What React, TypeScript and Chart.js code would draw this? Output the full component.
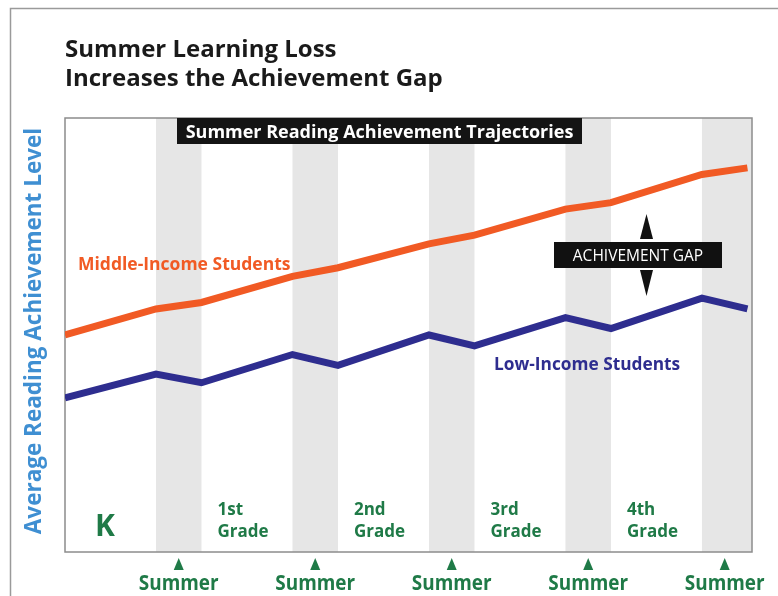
import React, { useEffect, useRef } from "react";
import { Chart, registerables } from "chart.js";

Chart.register(...registerables);

// Time axis: each grade year = 2 units of school, 1 unit of summer
const xPoints = [0, 2, 3, 5, 6, 8, 9, 11, 12, 14, 15];
const middleIncome = [50, 56, 57.5, 63.5, 65.5, 71, 73, 79, 80.5, 87, 88.5];
const lowIncome = [35.5, 41, 39, 45.5, 43, 50, 47.5, 54, 51.5, 58.5, 56];
const summerBands: [number, number][] = [
  [2, 3],
  [5, 6],
  [8, 9],
  [11, 12],
  [14, 15.1],
];
const gradeLabels = ["1st", "2nd", "3rd", "4th"];
const titleLines = ["Summer Learning Loss", "Increases the Achievement Gap"];
const subtitle = "Summer Reading Achievement Trajectories";
const yAxisTitle = "Average Reading Achievement Level";
const seriesNames = ["Middle-Income Students", "Low-Income Students"];
const gapLabel = "ACHIVEMENT GAP";
const summerLabel = "Summer";
const kLabel = "K";

const ORANGE = "#f15a24";
const BLUE = "#2e2d8f";
const GREEN = "#1f7a47";
const YBLUE = "#3f8fd2";
const FONT = "'Open Sans', 'DejaVu Sans', sans-serif";

const decorPlugin = {
  id: "decor",
  beforeDraw(chart: any) {
    const ctx = chart.ctx;
    ctx.save();
    ctx.fillStyle = "#ffffff";
    ctx.fillRect(0, 0, chart.width, chart.height);
    // outer frame
    ctx.strokeStyle = "#9a9a9a";
    ctx.lineWidth = 1.5;
    ctx.beginPath();
    ctx.moveTo(10.5, chart.height + 5);
    ctx.lineTo(10.5, 8.5);
    ctx.lineTo(chart.width + 5, 8.5);
    ctx.stroke();
    ctx.restore();
  },
  beforeDatasetsDraw(chart: any) {
    const ctx = chart.ctx;
    const { top, bottom, left, right } = chart.chartArea;
    const xs = chart.scales.x;
    ctx.save();
    ctx.fillStyle = "#e6e6e6";
    summerBands.forEach(([a, b]) => {
      const x0 = xs.getPixelForValue(a);
      const x1 = Math.min(xs.getPixelForValue(b), right);
      ctx.fillRect(x0, top, x1 - x0, bottom - top);
    });
    ctx.strokeStyle = "#8c8c8c";
    ctx.lineWidth = 1.5;
    ctx.strokeRect(left, top, right - left, bottom - top);
    ctx.restore();
  },
  afterDraw(chart: any) {
    const ctx = chart.ctx;
    const { top, bottom } = chart.chartArea;
    const xs = chart.scales.x;
    ctx.save();
    ctx.textBaseline = "alphabetic";

    // title
    ctx.fillStyle = "#1a1a1a";
    ctx.font = `bold 24px ${FONT}`;
    ctx.textAlign = "left";
    ctx.fillText(titleLines[0], 65, 57);
    ctx.fillText(titleLines[1], 65, 86);

    // subtitle box
    ctx.fillStyle = "#141414";
    ctx.fillRect(177, top, 405, 26);
    ctx.fillStyle = "#ffffff";
    ctx.font = `bold 18px ${FONT}`;
    ctx.textAlign = "center";
    ctx.fillText(subtitle, 379.5, top + 20);

    // series labels
    ctx.textAlign = "left";
    ctx.font = `bold 17.5px ${FONT}`;
    ctx.fillStyle = ORANGE;
    ctx.fillText(seriesNames[0], 78, 270);
    ctx.font = `bold 17.3px ${FONT}`;
    ctx.fillStyle = BLUE;
    ctx.fillText(seriesNames[1], 494, 370);

    // achievement gap box and arrows
    ctx.fillStyle = "#111111";
    ctx.beginPath();
    ctx.moveTo(646.5, 214);
    ctx.lineTo(653, 239);
    ctx.lineTo(640, 239);
    ctx.closePath();
    ctx.fill();
    ctx.beginPath();
    ctx.moveTo(640, 270);
    ctx.lineTo(653, 270);
    ctx.lineTo(646.5, 296);
    ctx.closePath();
    ctx.fill();
    ctx.fillRect(554, 242, 168, 26);
    ctx.fillStyle = "#ffffff";
    ctx.font = `400 15.5px ${FONT}`;
    ctx.textAlign = "center";
    ctx.fillText(gapLabel, 638, 261);

    // y axis title
    ctx.save();
    ctx.translate(41, 331);
    ctx.rotate(-Math.PI / 2);
    ctx.fillStyle = YBLUE;
    ctx.font = `bold 22.5px ${FONT}`;
    ctx.textAlign = "center";
    ctx.fillText(yAxisTitle, 0, 0);
    ctx.restore();

    // K and grades
    ctx.fillStyle = GREEN;
    ctx.textAlign = "left";
    ctx.font = `bold 30px ${FONT}`;
    ctx.fillText(kLabel, 95, 536);
    ctx.font = `bold 17px ${FONT}`;
    gradeLabels.forEach((g, i) => {
      const x = xs.getPixelForValue(summerBands[i][1]) + 16;
      ctx.fillText(g, x, 515);
      ctx.fillText("Grade", x, 537);
    });

    // summer markers
    ctx.textAlign = "center";
    ctx.font = `bold 22px ${FONT}`;
    summerBands.forEach(([a]) => {
      const c = xs.getPixelForValue(a + 0.5);
      ctx.beginPath();
      ctx.moveTo(c, bottom + 6);
      ctx.lineTo(c + 5, bottom + 18);
      ctx.lineTo(c - 5, bottom + 18);
      ctx.closePath();
      ctx.fill();
      ctx.save();
      ctx.translate(c, 590);
      ctx.scale(0.86, 1);
      ctx.fillText(summerLabel, 0, 0);
      ctx.restore();
    });
    ctx.restore();
  },
};

export default function App() {
  const ref = useRef<HTMLCanvasElement>(null);
  useEffect(() => {
    if (!ref.current) return;
    const chart = new Chart(ref.current, {
      type: "line",
      data: {
        datasets: [
          {
            label: seriesNames[0],
            data: xPoints.map((x, i) => ({ x, y: middleIncome[i] })),
            borderColor: ORANGE,
            borderWidth: 7,
            pointRadius: 0,
            tension: 0,
          },
          {
            label: seriesNames[1],
            data: xPoints.map((x, i) => ({ x, y: lowIncome[i] })),
            borderColor: BLUE,
            borderWidth: 7,
            pointRadius: 0,
            tension: 0,
          },
        ],
      },
      options: {
        responsive: false,
        animation: false,
        devicePixelRatio: 1,
        layout: { padding: { left: 65, top: 118, right: 26, bottom: 44 } },
        scales: {
          x: { type: "linear", min: 0, max: 15.1, display: false },
          y: { min: 0, max: 100, display: false },
        },
        plugins: { legend: { display: false }, tooltip: { enabled: false } },
      },
      plugins: [decorPlugin],
    });
    return () => chart.destroy();
  }, []);
  return (
    <div style={{ position: "absolute", left: 0, top: 0, width: 778, height: 596 }}>
      <canvas ref={ref} width={778} height={596} style={{ display: "block" }} />
    </div>
  );
}
